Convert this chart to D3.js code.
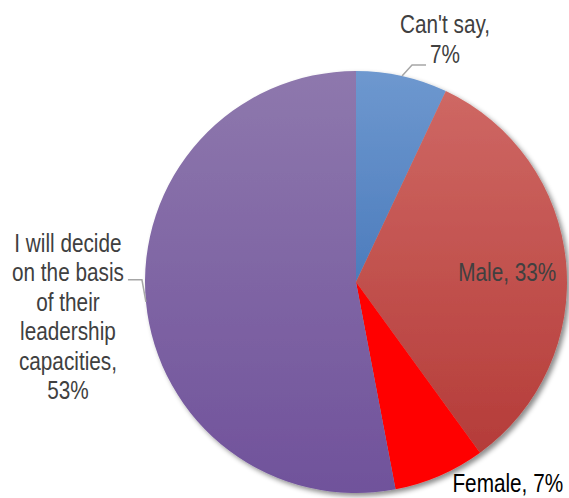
<!DOCTYPE html>
<html>
<head>
<meta charset="utf-8">
<script src="https://cdn.jsdelivr.net/npm/d3@7/dist/d3.min.js"></script>
<style>
  html, body { margin: 0; padding: 0; background: #ffffff; }
  svg { display: block; }
</style>
</head>
<body>
<div id="chart"></div>
<script>
// Survey answers, clockwise from 12 o'clock
const categories = ["Can't say", "Male", "Female", "I will decide on the basis of their leadership capacities"];
const values = [7, 33, 7, 53];
const labelLines = [
  ["Can't say,", "7%"],
  ["Male, 33%"],
  ["Female, 7%"],
  ["I will decide", "on the basis", "of their", "leadership", "capacities,", "53%"]
];

const width = 569, height = 498;
const cx = 356, cy = 282, radius = 211;

const svg = d3.select("#chart").append("svg")
  .attr("width", width).attr("height", height);

const defs = svg.append("defs");

// soft drop shadow below/right of the pie
const shadow = defs.append("filter").attr("id", "pieShadow")
  .attr("x", "-10%").attr("y", "-10%").attr("width", "125%").attr("height", "125%");
shadow.append("feDropShadow")
  .attr("dx", 3).attr("dy", 3).attr("stdDeviation", 2.5)
  .attr("flood-color", "#000").attr("flood-opacity", 0.45);

// vertical gradients per slice (lighter at top), in the pie group's own coordinates
const fills = [
  ["#6e98cf", "#2a60aa"],
  ["#d06a66", "#b23734"],
  ["#ff0000", "#ff0000"],
  ["#8e78ad", "#70529b"]
];
fills.forEach((f, i) => {
  const g = defs.append("linearGradient").attr("id", "grad" + i)
    .attr("gradientUnits", "userSpaceOnUse")
    .attr("x1", 0).attr("x2", 0).attr("y1", -radius).attr("y2", radius);
  g.append("stop").attr("offset", "0%").attr("stop-color", f[0]);
  g.append("stop").attr("offset", "100%").attr("stop-color", f[1]);
});

const pie = d3.pie().sort(null).value(d => d);
const arcs = pie(values);
const arc = d3.arc().innerRadius(0).outerRadius(radius);

const root = svg.append("g").attr("transform", `translate(${cx},${cy})`);

root.append("g").attr("filter", "url(#pieShadow)")
  .selectAll("path").data(arcs).join("path")
  .attr("d", arc)
  .attr("fill", (d, i) => `url(#grad${i})`);

// label placement relative to each slice's mid angle
const mid = d => (d.startAngle + d.endAngle) / 2;
const onRadius = (d, r) => [Math.sin(mid(d)) * r, -Math.cos(mid(d)) * r];

const labelFont = 25, lineGap = 29.5, squeeze = 0.83;
const labelSpecs = [
  { r: radius, dx: 43, dy: -43, color: "#404040", leader: true, elbow: [10, -11], run: 14 },
  { r: radius * 0.72, dx: 0, dy: 13, color: "#404040" },
  { r: radius, dx: 68, dy: 16.5, color: "#000000" },
  { r: radius, dx: -78, dy: -50, color: "#404040", leader: true, elbow: [-4, -22], run: -14 }
];

arcs.forEach((d, i) => {
  const s = labelSpecs[i];
  const [px, py] = onRadius(d, s.r);
  const lines = labelLines[i];
  const lx = px + s.dx, ly = py + s.dy;

  if (s.leader) {
    const p0 = [px, py];
    const p1 = [px + s.elbow[0], py + s.elbow[1]];
    const p2 = [p1[0] + s.run, p1[1]];
    root.append("path")
      .attr("d", d3.line()([p0, p1, p2]))
      .attr("fill", "none")
      .attr("stroke", "#a6a6a6")
      .attr("stroke-width", 1.5);
  }

  const t = root.append("text")
    .attr("transform", `translate(${lx},${ly}) scale(${squeeze},1)`)
    .attr("text-anchor", "middle")
    .attr("font-family", "Liberation Sans, Arial, sans-serif")
    .attr("font-size", labelFont)
    .attr("fill", s.color);
  lines.forEach((ln, j) => {
    t.append("tspan").attr("x", 0).attr("y", j * lineGap).text(ln);
  });
});
</script>
</body>
</html>
